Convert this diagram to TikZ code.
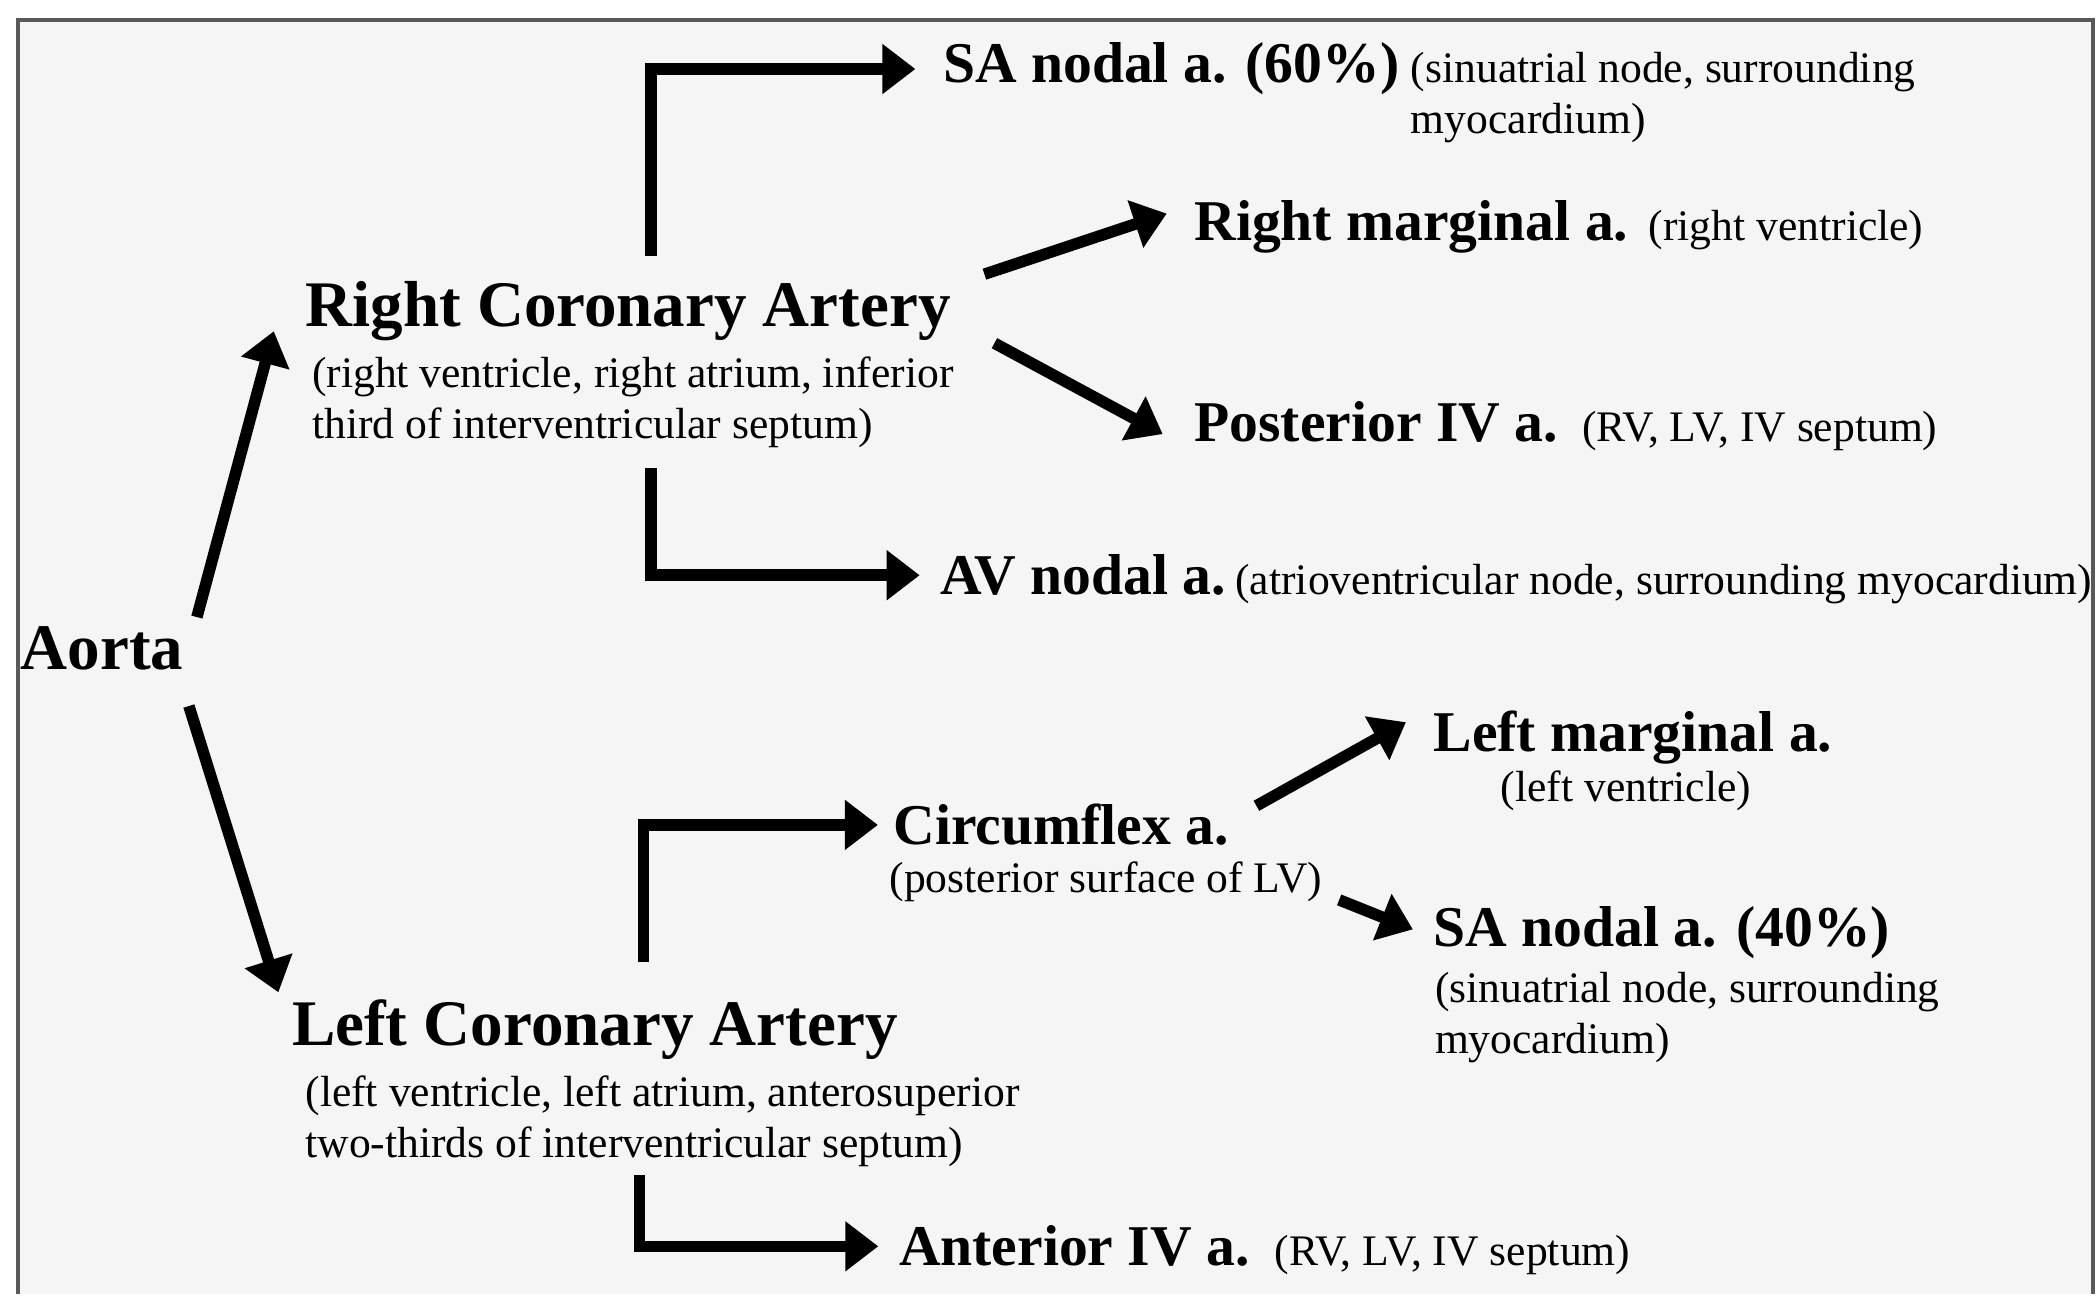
\documentclass[tikz,border=0pt]{standalone}
\usepackage{fontspec}
\setmainfont{Liberation Serif}
\usetikzlibrary{positioning,arrows.meta}

\begin{document}
\begin{tikzpicture}[>={Triangle[length=3.3mm,width=4.8mm]},
	artery/.style={inner sep=0pt,anchor=base west,font=\fontsize{18.5}{22}\selectfont\bfseries},
	branch/.style={inner sep=0pt,anchor=base west,font=\fontsize{16.4}{20}\selectfont\bfseries},
	supply/.style={inner sep=0pt,anchor=base west,align=left,font=\fontsize{12.4}{14.5}\selectfont},
	flow/.style={->,line width=1.15mm}]
	% frame
	\fill[white] (0,0) rectangle (20.96,12.94);
	\fill[black!4] (0.18,0) rectangle (20.93,12.74);
	\draw[black!65,line width=0.4mm] (0.18,0) -- (0.18,12.74) -- (20.93,12.74) -- (20.93,0);
	\useasboundingbox (0,0) rectangle (20.96,12.94);

	\node[artery] (aorta) at (0.20,6.243) {Aorta};
	\node[artery] (rca) at (3.048,9.678) {Right Coronary Artery};
	\node[supply] (rcad) at (3.114,8.553) {(right ventricle, right atrium, inferior\\third of interventricular septum)};
	\node[artery] (lca) at (2.914,2.487) {Left Coronary Artery};
	\node[supply] (lcad) at (3.048,1.361) {(left ventricle, left atrium, anterosuperior\\two-thirds of interventricular septum)};

	% right side branches
	\node[branch] (sa60) at (9.424,12.111) {SA nodal a. (60\%)};
	\node[supply] (sa60d) at ([xshift=0.1cm,yshift=-0.51cm]sa60.base east) {(sinuatrial node, surrounding\\myocardium)};
	\node[branch] (rmarg) at (11.937,10.534) {Right marginal a.};
	\node[supply, base right=0.19cm of rmarg] (rmargd) {(right ventricle)};
	\node[branch] (post) at (11.937,8.529) {Posterior IV a.};
	\node[supply, base right=0.23cm of post] (postd) {(RV, LV, IV septum)};
	\node[branch] (avn) at (9.397,6.992) {AV nodal a.};
	\node[supply, base right=0.08cm of avn] (avnd) {(atrioventricular node, surrounding myocardium)};

	% left side branches
	\node[branch] (circ) at (8.929,4.492) {Circumflex a.};
	\node[supply] (circd) at (8.889,4.011) {(posterior surface of LV)};
	\node[branch] (lmarg) at (14.329,5.428) {Left marginal a.};
	\node[supply] (lmargd) at (15.0,4.92) {(left ventricle)};
	\node[branch] (sa40) at (14.329,3.476) {SA nodal a. (40\%)};
	\node[supply] (sa40d) at (14.343,2.404) {(sinuatrial node, surrounding\\myocardium)};
	\node[branch] (ant) at (8.983,0.281) {Anterior IV a.};
	\node[supply, base right=0.24cm of ant] (antd) {(RV, LV, IV septum)};

	\draw[flow] ([shift={(0.13,0.09)}]aorta.north east) -- ([shift={(-0.31,-0.05)}]rca.base west);
	\draw[flow] ([shift={(0.05,-0.35)}]aorta.south east) -- ([shift={(-0.13,0.065)}]lca.north west);
	\draw[flow, shorten >=0.27cm] ([shift={(3.46,0.70)}]rca.base west) |- (sa60.west);
	\draw[flow, shorten >=0.2cm] ([shift={(3.46,-1.42)}]rca.base west) |- (avn.west);
	\draw[flow] ([shift={(0.33,0.52)}]rca.base east) -- ([shift={(-0.27,0.27)}]rmarg.base west);
	\draw[flow] ([shift={(0.43,-0.17)}]rca.base east) -- ([shift={(-0.31,0.07)}]post.base west);
	\draw[flow, shorten >=0.15cm] ([shift={(3.52,0.83)}]lca.base west) |- (circ.west);
	\draw[flow, shorten >=0.2cm] ([shift={(3.48,-1.30)}]lca.base west) |- (ant.west);
	\draw[flow] ([shift={(0.27,0.39)}]circ.base east) -- ([shift={(-0.27,0.29)}]lmarg.base west);
	\draw[flow] ([shift={(0.16,-0.07)}]circd.base east) -- ([shift={(-0.2,0.17)}]sa40.base west);
\end{tikzpicture}
\end{document}
